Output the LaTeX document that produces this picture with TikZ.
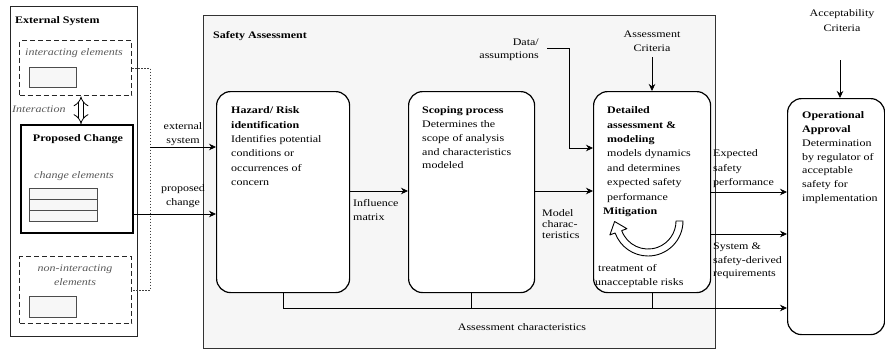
\documentclass[tikz,border=0pt]{standalone}
\usepackage{fontspec}
\setmainfont{Liberation Serif}[FakeStretch=1.2]
\usetikzlibrary{arrows.meta}
% fixed height for the first line of a multi-line node
\newcommand\firstln{\rule{0pt}{7.2pt}}

\begin{document}
\begin{tikzpicture}[x=1pt, y=-1pt,
  font=\fontsize{10}{14}\selectfont,
  txt/.style={inner sep=0pt, align=left},
  ctxt/.style={inner sep=0pt, align=center},
  proc/.style={draw=black, line width=1.2pt, rounded corners=14pt, fill=white,
               anchor=north west, inner sep=0pt},
  plainbox/.style={anchor=north west, inner sep=0pt},
  dashbox/.style={draw=black!85, line width=1.4pt, dash pattern=on 5pt off 3pt,
                  anchor=north west, inner sep=0pt},
  elem/.style={draw=black!70, fill=gray!6, line width=0.8pt, anchor=north west, inner sep=0pt},
  note/.style={inner sep=0pt, text=black!65, font=\fontsize{10}{14}\selectfont\itshape},
  arr/.style={line width=0.8pt, -{Stealth[length=7pt,width=6.5pt]}},
  link/.style={line width=0.8pt},
  dotline/.style={line width=0.8pt, draw=black!75, dash pattern=on 1.2pt off 1.8pt}
]
\useasboundingbox (0,0) rectangle (885,353);

% ---------------- external system ----------------
\node[plainbox, draw=black!85, fill=white, line width=1.1pt,
      minimum width=127pt, minimum height=330pt] (ext) at (10,6) {};
\node[txt, anchor=base west, font=\fontsize{10}{14}\selectfont\bfseries] (extt) at (15,23.5) {External System};

\node[dashbox, minimum width=112pt, minimum height=55pt] (ie) at (19,40) {};
\node[note, anchor=base] (iet) at (74,55.5) {interacting elements};
\node[elem, minimum width=47pt, minimum height=20pt] (ie1) at (29,67) {};

\node[plainbox, draw=black, fill=white, line width=1.8pt,
      minimum width=112pt, minimum height=108pt] (pc) at (20,124) {};
\node[txt, anchor=base, font=\fontsize{10}{14}\selectfont\bfseries] (pct) at (78,141) {Proposed Change};
\node[note, anchor=base] (pce) at (74,178.5) {change elements};
\node[elem, minimum width=68pt, minimum height=11pt] (pc1) at (29,188) {};
\node[elem, minimum width=68pt, minimum height=11pt] (pc2) at (29,199) {};
\node[elem, minimum width=68pt, minimum height=11pt] (pc3) at (29,210) {};

\node[dashbox, minimum width=112pt, minimum height=67pt] (ne) at (19,256) {};
\node[note, ctxt, anchor=north] (net) at (75,264.3) {\firstln non-interacting\\elements};
\node[elem, minimum width=47pt, minimum height=21pt] (ne1) at (29,296) {};

% interaction between the external elements and the change
\coordinate (ix) at (81,0);
\draw[double, double distance=4.5pt, line width=0.8pt, {Implies}-{Implies}]
  (ie.south -| ix) -- (pc.north -| ix);
\node[note, anchor=base west] (itl) at (12,112.5) {Interaction};

% dotted bracket collecting the external system
\coordinate (dv) at (150,0);
\draw[dotline] (ie.east) -| (dv |- ne.east) -- (ne.east);

% ---------------- safety assessment ----------------
\node[plainbox, draw=black!80, fill=gray!7, line width=0.9pt,
      minimum width=512pt, minimum height=333pt] (sa) at (203,15) {};
\node[txt, anchor=base west, font=\fontsize{10}{14}\selectfont\bfseries] (sat) at (213,39) {Safety Assessment};

\node[proc, minimum width=133pt, minimum height=201pt] (haz) at (216,91) {};
\node[txt, anchor=north west, font=\fontsize{10}{14.4}\selectfont] (hazt) at (231,106.3)
  {\firstln\textbf{Hazard/ Risk}\\\textbf{identification}\\Identifies potential\\conditions or\\occurrences of\\concern};

\node[proc, minimum width=126pt, minimum height=201pt] (scope) at (408,91) {};
\node[txt, anchor=north west, font=\fontsize{10}{13.8}\selectfont] (scopet) at (422,106.3)
  {\firstln\textbf{Scoping process}\\Determines the\\scope of analysis\\and characteristics\\modeled};

\node[proc, minimum width=117pt, minimum height=201pt] (det) at (593,91) {};
\node[txt, anchor=north west, font=\fontsize{10}{14.4}\selectfont] (dett) at (607,106.3)
  {\firstln\textbf{Detailed}\\\textbf{assessment \&}\\\textbf{modeling}\\models dynamics\\and determines\\expected safety\\performance};
\node[txt, anchor=base west, font=\fontsize{10}{14}\selectfont\bfseries] (mit) at (603,214.5) {Mitigation};
\node[txt, anchor=base west] (treat) at (598,271.5) {treatment of};
\node[txt, anchor=base west] (unacc) at (595,285.5) {unacceptable risks};

% mitigation loop
\draw[line width=0.9pt, fill=white, line join=round]
  (683,221) arc[start angle=0, end angle=160, radius=35]
  -- (609.9,234.9) -- (614.6,221.5) -- (626.9,228.7) -- (621.7,230.6)
  arc[start angle=160, end angle=0, radius=28] -- cycle;

% ---------------- operational approval ----------------
\node[proc, minimum width=97pt, minimum height=236pt] (op) at (787,98) {};
\node[txt, anchor=north west, font=\fontsize{10}{13.8}\selectfont] (opt) at (802,111.3)
  {\firstln\textbf{Operational}\\\textbf{Approval}\\Determination\\by regulator of\\acceptable\\safety for\\implementation};

% ---------------- labels ----------------
\node[ctxt, anchor=north] (lext) at (183,122.3) {\firstln external\\system};
\node[ctxt, anchor=north] (lpc) at (183,184.3) {\firstln proposed\\change};
\node[txt, anchor=north west] (linf) at (353,199.3) {\firstln Influence\\matrix};
\node[txt, anchor=north west, font=\fontsize{10}{11}\selectfont] (lmod) at (542,209.3) {\firstln Model\\charac-\\teristics};
\node[txt, anchor=north east, align=right, font=\fontsize{10}{13}\selectfont] (ldata) at (539,37.8) {\firstln Data/\\assumptions};
\node[ctxt, anchor=north, font=\fontsize{10}{14}\selectfont] (lac) at (652,29.8) {\firstln Assessment\\Criteria};
\node[ctxt, anchor=north, font=\fontsize{10}{15}\selectfont] (lacc) at (842,8.8) {\firstln Acceptability\\Criteria};
\node[txt, anchor=north west, font=\fontsize{10}{14.5}\selectfont] (lexp) at (713,149.3) {\firstln Expected\\safety\\performance};
\node[txt, anchor=north west, font=\fontsize{10}{13.5}\selectfont] (lsys) at (713,242.3) {\firstln System \&\\safety-derived\\requirements};
\node[ctxt, anchor=base] (lchar) at (522,330) {Assessment characteristics};

% ---------------- connectors ----------------
\coordinate (es) at (150,147);
\draw[arr] (es) -- (haz.west |- es);

\coordinate (pcy) at (0,214);
\draw[arr] (pc.east |- pcy) -- (haz.west |- pcy);

\coordinate (iny) at (0,191);
\draw[arr] (haz.east |- iny) -- (scope.west |- iny);
\draw[arr] (scope.east |- iny) -- (det.west |- iny);

\coordinate (ds) at (547,48);
\coordinate (dbend) at (569,148);
\draw[arr] (ds) -| (dbend) -- (det.west |- dbend);

\draw[arr] ([yshift=-6pt]lac.south) -- (lac.south |- det.north);
\coordinate (accs) at (840,60);
\draw[arr] (accs) -- (op.north -| accs);

\coordinate (exy) at (0,192);
\draw[arr] (det.east |- exy) -- (op.west |- exy);
\coordinate (syy) at (0,234);
\draw[arr] (det.east |- syy) -- (op.west |- syy);

\coordinate (acy) at (0,308);
\draw[arr] (haz.south) |- (op.west |- acy);
\draw[link] (scope.south) -- (scope.south |- acy);
\draw[link] (det.south) -- (det.south |- acy);
\end{tikzpicture}
\end{document}
